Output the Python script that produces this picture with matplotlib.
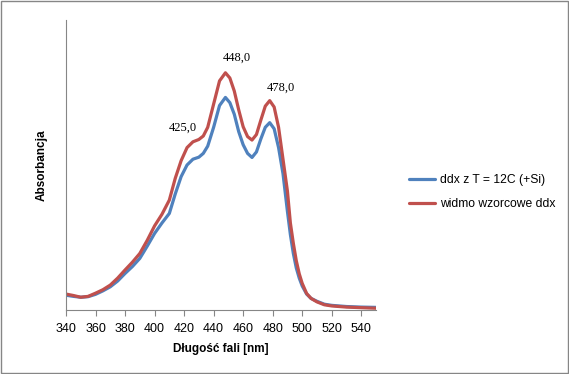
import matplotlib.pyplot as plt
import numpy as np

# wavelength [nm]
wl = [340, 345, 350, 355, 360, 365, 370, 375, 380, 385, 390, 395, 400, 405, 410,
      414, 418, 422, 426, 430, 433, 436, 440, 444, 448, 451, 454, 457, 460, 463,
      466, 469, 472, 475, 478, 481, 484, 487, 490, 492, 494, 496, 498, 500, 503,
      506, 510, 515, 520, 530, 540, 550]

# ddx z T = 12C (+Si)
blue = [0.051, 0.047, 0.044, 0.046, 0.054, 0.066, 0.080, 0.100, 0.126, 0.150,
        0.178, 0.220, 0.264, 0.300, 0.333, 0.400, 0.460, 0.500, 0.520, 0.527,
        0.540, 0.565, 0.630, 0.705, 0.733, 0.715, 0.675, 0.615, 0.570, 0.540,
        0.526, 0.545, 0.590, 0.630, 0.646, 0.625, 0.560, 0.470, 0.340, 0.260,
        0.195, 0.145, 0.110, 0.083, 0.055, 0.040, 0.030, 0.020, 0.016, 0.012,
        0.010, 0.009]

# widmo wzorcowe ddx
red = [0.055, 0.050, 0.044, 0.047, 0.058, 0.070, 0.086, 0.110, 0.138, 0.165,
       0.195, 0.240, 0.290, 0.330, 0.379, 0.454, 0.515, 0.560, 0.580, 0.588,
       0.600, 0.630, 0.710, 0.790, 0.818, 0.800, 0.755, 0.690, 0.632, 0.598,
       0.586, 0.605, 0.655, 0.703, 0.722, 0.700, 0.630, 0.520, 0.410, 0.300,
       0.230, 0.170, 0.125, 0.092, 0.057, 0.040, 0.028, 0.018, 0.014, 0.010,
       0.008, 0.006]

peaks = [425, 448, 478]
peak_vals = [0.572, 0.818, 0.722]
label_offsets = [(-6, 11.5), (8, 10.6), (8, 9.2)]  # points

fig = plt.figure(figsize=(5.69, 3.74), dpi=100)
ax = fig.add_axes([66/569, 64/374, 310/569, 290/374])

ax.plot(wl, blue, color='#4F81BD', lw=2.3, label='ddx z T = 12C (+Si)',
        solid_joinstyle='round', solid_capstyle='round')
ax.plot(wl, red, color='#C0504D', lw=2.3, label='widmo wzorcowe ddx',
        solid_joinstyle='round', solid_capstyle='round')

for p, v, off in zip(peaks, peak_vals, label_offsets):
    ax.annotate(f'{p},0', (p, v), xytext=off, textcoords='offset points',
                ha='center', va='center', fontsize=9, family='Liberation Serif')

ax.set_xlim(340, 550)
ax.set_ylim(0, 1)
ax.set_xticks(np.arange(340, 541, 20))
ax.set_yticks([])
ax.tick_params(axis='x', direction='out', length=4, color='#868686',
               labelsize=9, pad=5)
for lab in ax.get_xticklabels():
    lab.set_family('Liberation Sans')
for s in ['top', 'right']:
    ax.spines[s].set_visible(False)
for s in ['left', 'bottom']:
    ax.spines[s].set_color('#868686')

ax.set_xlabel('Długość fali [nm]', fontsize=8.5, fontweight='bold',
              family='Liberation Sans', labelpad=6)
fig.text(42/569, 1 - 165/374, 'Absorbancja', rotation=90, ha='center',
         va='center', fontsize=8.5, fontweight='bold', family='Liberation Sans')

fig.legend(loc='upper left', bbox_to_anchor=(404/569, 1 - 169/374), frameon=False,
           handlelength=2.2, handletextpad=0.35, labelspacing=1.0, borderaxespad=0,
           prop={'family': 'Liberation Sans', 'size': 8.7})

fig.patches.append(plt.Rectangle((0.001, 0.002), 0.997, 0.996, transform=fig.transFigure,
                                 fill=False, edgecolor='#868686', lw=1))

fig.savefig('out.png', dpi=100)
